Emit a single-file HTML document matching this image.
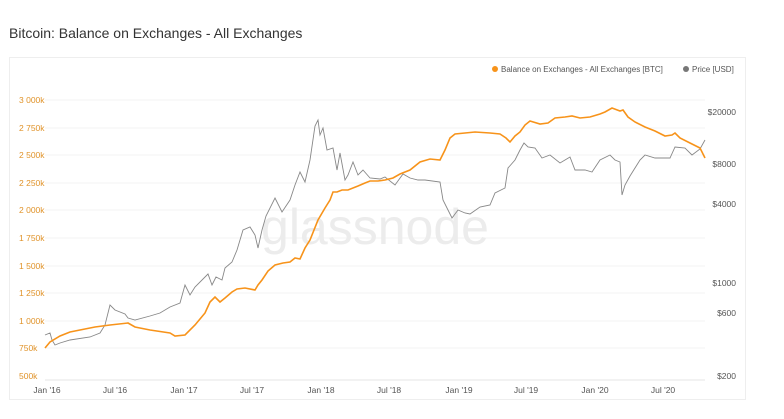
<!DOCTYPE html>
<html><head><meta charset="utf-8"><style>
body{margin:0;background:#fff;width:784px;height:414px;overflow:hidden;font-family:"Liberation Sans",sans-serif}
</style></head><body>
<svg width="784" height="414" xmlns="http://www.w3.org/2000/svg" font-family="Liberation Sans, sans-serif">
<text x="9" y="38" font-size="14" fill="#333">Bitcoin: Balance on Exchanges - All Exchanges</text>
<rect x="9.5" y="57.5" width="736" height="342" fill="#fff" stroke="#eee"/>
<g stroke="#f3f3f3" stroke-width="1">
<line x1="45" x2="705" y1="100" y2="100"/><line x1="45" x2="705" y1="128" y2="128"/><line x1="45" x2="705" y1="155" y2="155"/><line x1="45" x2="705" y1="183" y2="183"/><line x1="45" x2="705" y1="210" y2="210"/><line x1="45" x2="705" y1="238" y2="238"/><line x1="45" x2="705" y1="266" y2="266"/><line x1="45" x2="705" y1="293" y2="293"/><line x1="45" x2="705" y1="321" y2="321"/><line x1="45" x2="705" y1="348" y2="348"/><line x1="45" x2="705" y1="380" y2="380" stroke="#e6e6e6"/>
</g>
<text x="375" y="244" font-size="50" fill="#ececec" text-anchor="middle">glassnode</text>
<g font-size="8.5" fill="#e0932a">
<text x="19" y="103">3 000k</text><text x="19" y="131">2 750k</text><text x="19" y="158">2 500k</text><text x="19" y="186">2 250k</text><text x="19" y="213">2 000k</text><text x="19" y="241">1 750k</text><text x="19" y="269">1 500k</text><text x="19" y="296">1 250k</text><text x="19" y="324">1 000k</text><text x="19" y="351">750k</text><text x="19" y="379">500k</text>
</g>
<g font-size="8.5" fill="#555" text-anchor="end">
<text x="736" y="115">$20000</text><text x="736" y="167">$8000</text><text x="736" y="207">$4000</text><text x="736" y="286">$1000</text><text x="736" y="316">$600</text><text x="736" y="379">$200</text>
</g>
<g font-size="8.5" fill="#555" text-anchor="middle">
<text x="47" y="393">Jan '16</text><text x="115" y="393">Jul '16</text><text x="184" y="393">Jan '17</text><text x="252" y="393">Jul '17</text><text x="321" y="393">Jan '18</text><text x="389" y="393">Jul '18</text><text x="459" y="393">Jan '19</text><text x="526" y="393">Jul '19</text><text x="595" y="393">Jan '20</text><text x="663" y="393">Jul '20</text>
</g>
<circle cx="495" cy="69" r="3" fill="#f7931a"/><text x="501" y="72" font-size="8" fill="#555">Balance on Exchanges - All Exchanges [BTC]</text>
<circle cx="686" cy="69" r="3" fill="#777"/><text x="692" y="72" font-size="8" fill="#555">Price [USD]</text>
<polyline fill="none" stroke="#888" stroke-width="0.9" points="45,335 50,333 52,340 55,345 60,343 70,340 90,337 100,333 105,325 110,305 115,310 125,314 128,318 135,320 150,316 160,313 170,307 180,303 185,285 190,295 195,287 208,274 212,285 216,277 222,280 225,268 232,262 237,250 243,230 250,227 255,235 258,248 262,230 266,216 275,198 282,212 290,200 295,185 300,172 305,182 310,160 315,126 318,120 320,135 323,128 327,150 333,148 337,170 340,153 345,180 348,175 353,162 358,175 363,170 370,178 380,179 385,177 395,185 403,174 410,178 418,180 425,180 440,182 443,200 448,210 452,218 458,210 465,213 470,214 480,207 490,205 495,193 505,188 508,168 515,160 520,150 524,143 528,147 535,148 542,158 550,155 560,163 565,160 570,157 575,170 585,170 592,172 600,160 610,155 615,160 620,162 622,195 625,185 630,176 640,160 645,155 655,158 670,158 675,147 685,148 692,155 700,149 705,140"/>
<polyline fill="none" stroke="#f7931a" stroke-width="1.6" points="45,348 50,342 60,336 70,332 95,327 110,325 128,323 135,327 150,330 170,333 175,336 185,335 195,325 205,313 210,302 215,297 220,302 225,298 232,292 237,289 245,288 255,290 258,285 262,280 268,271 275,265 283,263 290,262 295,258 300,259 305,248 310,240 318,220 325,208 330,200 333,192 337,192 342,190 348,190 358,186 365,183 370,181 378,181 385,180 393,178 400,174 410,170 420,162 430,159 440,160 445,150 450,138 455,134 465,133 475,132 490,133 500,134 506,138 510,142 515,136 520,132 525,125 530,121 540,124 548,123 555,118 565,117 572,116 580,118 590,117 600,114 605,112 612,108 620,111 623,110 628,117 635,122 645,127 655,131 665,136 672,135 675,133 680,138 690,143 700,148 705,158"/>
</svg>
</body></html>
